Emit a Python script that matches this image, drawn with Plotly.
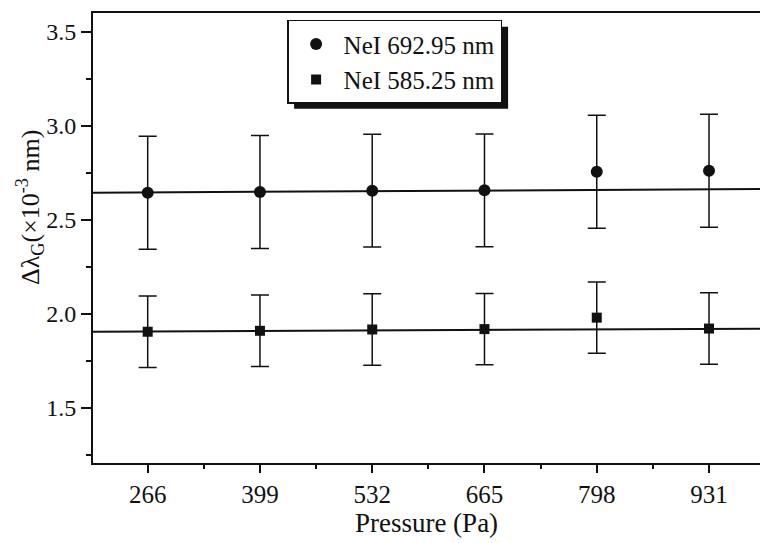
import plotly.graph_objects as go

# ---- data ----
pressure = [266, 399, 532, 665, 798, 931]
nei_692 = [2.644, 2.648, 2.655, 2.657, 2.756, 2.761]
nei_692_err = [0.30, 0.30, 0.30, 0.30, 0.30, 0.30]
nei_585 = [1.905, 1.910, 1.917, 1.919, 1.980, 1.922]
nei_585_err = [0.19, 0.19, 0.19, 0.19, 0.19, 0.19]

# fitted lines (endpoints at the axis limits)
x_range = [201.2, 991.4]
fit_692 = [2.644, 2.664]
fit_585 = [1.905, 1.921]

y_range = [1.207, 3.60]
x_ticks = [266, 399, 532, 665, 798, 931]

FONT = "Liberation Serif"
INK = "#111111"

fig = go.Figure()

fig.add_trace(go.Scatter(x=x_range, y=fit_692, mode="lines",
                         line=dict(color=INK, width=2), showlegend=False, hoverinfo="skip"))
fig.add_trace(go.Scatter(x=x_range, y=fit_585, mode="lines",
                         line=dict(color=INK, width=2), showlegend=False, hoverinfo="skip"))

fig.add_trace(go.Scatter(
    x=pressure, y=nei_692, mode="markers", name="NeI 692.95 nm",
    marker=dict(symbol="circle", size=12, color=INK),
    error_y=dict(type="data", array=nei_692_err, visible=True,
                 color=INK, thickness=1.5, width=9)))
fig.add_trace(go.Scatter(
    x=pressure, y=nei_585, mode="markers", name="NeI 585.25 nm",
    marker=dict(symbol="square", size=10, color=INK),
    error_y=dict(type="data", array=nei_585_err, visible=True,
                 color=INK, thickness=1.5, width=9)))

# legend drop shadow (paper coordinates of the plot area: 667 x 450 px)
PW, PH = 667.0, 450.0
leg_x, leg_y = 0.291, 0.985
leg_w, leg_h = 214.0, 82.0
sh = 7.0
fig.add_shape(type="rect", xref="paper", yref="paper",
              x0=leg_x + sh / PW, x1=leg_x + (leg_w + sh) / PW,
              y0=leg_y - (leg_h + sh) / PH, y1=leg_y - sh / PH,
              fillcolor=INK, line=dict(width=0), layer="above")

fig.update_layout(
    width=760, height=543,
    margin=dict(l=93, r=0, t=13, b=80),
    paper_bgcolor="white", plot_bgcolor="white",
    font=dict(family=FONT, size=25, color=INK),
    showlegend=True,
    legend=dict(x=leg_x, y=leg_y, xanchor="left", yanchor="top",
                bgcolor="white", bordercolor=INK, borderwidth=1.5,
                font=dict(family=FONT, size=25, color=INK),
                tracegroupgap=0, itemwidth=45),
)

fig.add_annotation(text="Δλ<sub>G</sub>(×10<sup>-3</sup> nm)", textangle=-90,
                   xref="paper", yref="paper", x=(30 - 93) / PW, y=(463 - 208) / PH,
                   xanchor="center", yanchor="middle", showarrow=False,
                   font=dict(family=FONT, size=26, color=INK))

fig.update_xaxes(
    range=x_range, tickmode="array", tickvals=x_ticks,
    ticktext=[str(v) for v in x_ticks],
    showgrid=False, zeroline=False, automargin=False,
    showline=True, linecolor=INK, linewidth=2, mirror=True,
    ticks="outside", ticklen=8, tickwidth=1.5, tickcolor=INK,
    tickfont=dict(family=FONT, size=25, color=INK),
    minor=dict(tickmode="linear", tick0=266, dtick=66.5, ticks="outside",
               ticklen=4, tickwidth=1.5, tickcolor=INK, showgrid=False),
    title=dict(text="Pressure (Pa)", font=dict(family=FONT, size=27, color=INK), standoff=4),
)

fig.update_yaxes(
    range=y_range, tick0=1.5, dtick=0.5, tickformat=".1f",
    showgrid=False, zeroline=False, automargin=False,
    showline=True, linecolor=INK, linewidth=2, mirror=False,
    ticks="outside", ticklen=10, tickwidth=1.5, tickcolor=INK,
    tickfont=dict(family=FONT, size=24, color=INK),
    minor=dict(dtick=0.25, ticks="outside", ticklen=5, tickwidth=1.5,
               tickcolor=INK, showgrid=False),
)

fig.write_html("out.html", config={"displayModeBar": False},
               post_script="document.body.style.margin='0px';")
